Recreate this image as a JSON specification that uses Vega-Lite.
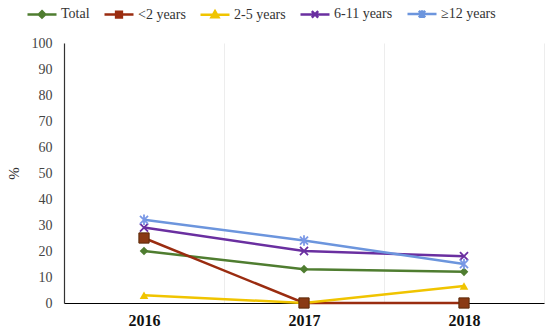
{
  "$schema": "https://vega.github.io/schema/vega-lite/v6.json",
  "width": 480,
  "height": 260,
  "autosize": "none",
  "padding": {"left": 64, "top": 43, "right": 6, "bottom": 31},
  "background": "white",
  "config": {
    "view": {"stroke": null},
    "font": "Liberation Serif"
  },
  "data": {
    "values": [
      {"year": "2016", "series": "Total", "value": 20},
      {"year": "2017", "series": "Total", "value": 13},
      {"year": "2018", "series": "Total", "value": 12},
      {"year": "2016", "series": "<2 years", "value": 25},
      {"year": "2017", "series": "<2 years", "value": 0},
      {"year": "2018", "series": "<2 years", "value": 0},
      {"year": "2016", "series": "2-5 years", "value": 3},
      {"year": "2017", "series": "2-5 years", "value": 0},
      {"year": "2018", "series": "2-5 years", "value": 6.5},
      {"year": "2016", "series": "6-11 years", "value": 29},
      {"year": "2017", "series": "6-11 years", "value": 20},
      {"year": "2018", "series": "6-11 years", "value": 18},
      {"year": "2016", "series": "≥12 years", "value": 32},
      {"year": "2017", "series": "≥12 years", "value": 24},
      {"year": "2018", "series": "≥12 years", "value": 15}
    ]
  },
  "encoding": {
    "x": {
      "field": "year", "type": "ordinal",
      "scale": {"type": "band", "paddingInner": 0, "paddingOuter": 0},
      "axis": {
        "title": null, "labelAngle": 0, "ticks": false, "tickBand": "extent",
        "grid": true, "gridColor": "#ededed", "gridWidth": 1,
        "domainColor": "#000000", "domainWidth": 1.2,
        "labelFont": "Liberation Serif", "labelFontSize": 16, "labelFontWeight": "bold",
        "labelColor": "#111111", "labelPadding": 9
      }
    },
    "y": {
      "field": "value", "type": "quantitative",
      "scale": {"domain": [0, 100], "nice": false},
      "axis": {
        "title": "%", "titleFont": "Liberation Serif", "titleFontSize": 15, "titleFontWeight": "normal",
        "titleColor": "#333333", "titlePadding": 10,
        "values": [0, 10, 20, 30, 40, 50, 60, 70, 80, 90, 100],
        "ticks": false, "grid": false, "domainColor": "#333333", "domainWidth": 1.2,
        "labelFont": "Liberation Serif", "labelFontSize": 14, "labelColor": "#444444", "labelPadding": 12
      }
    }
  },
  "layer": [
    {
      "mark": {"type": "line", "strokeWidth": 2.5},
      "encoding": {
        "color": {
          "field": "series", "type": "nominal",
          "scale": {
            "domain": ["Total", "<2 years", "2-5 years", "6-11 years", "≥12 years"],
            "range": ["#4f7d30", "#9a2c10", "#f0c400", "#6a2fa0", "#6c95dd"]
          },
          "legend": {
            "title": null,
            "orient": "none", "legendX": -38, "legendY": -45,
            "direction": "horizontal",
            "symbolSize": 841, "symbolStrokeWidth": 2.5,
            "labelFont": "Liberation Serif", "labelFontSize": 14, "labelColor": "#333333",
            "labelOffset": 3, "columnPadding": 9,
            "encode": {
              "symbols": {
                "update": {
                  "shape": {"signal": "datum.value === 'Total' ? 'M-1,0L1,0M0,-0.22L0.22,0L0,0.22L-0.22,0Z' : datum.value === '<2 years' ? 'M-1,0L1,0M-0.2,-0.2H0.2V0.2H-0.2Z' : datum.value === '2-5 years' ? 'M-1,0L1,0M0,-0.24L0.24,0.18L-0.24,0.18Z' : datum.value === '6-11 years' ? 'M-1,0L1,0M-0.22,-0.22L0.22,0.22M-0.22,0.22L0.22,-0.22' : 'M-1,0L1,0M-0.22,-0.22L0.22,0.22M-0.22,0.22L0.22,-0.22M0,-0.26L0,0.26'"},
                  "size": {"value": 841},
                  "fill": {"signal": "scale('color', datum.value)"},
                  "strokeWidth": {"value": 2.5}
                }
              }
            }
          }
        }
      }
    },
    {
      "transform": [{"filter": {"field": "series", "oneOf": ["Total", "2-5 years"]}}],
      "mark": {"type": "point", "filled": true, "opacity": 1, "size": 75},
      "encoding": {
        "fill": {
          "field": "series", "type": "nominal", "legend": null,
          "scale": {
            "domain": ["Total", "2-5 years"],
            "range": ["#4f7d30", "#f0c400"]
          }
        },
        "shape": {
          "field": "series", "type": "nominal", "legend": null,
          "scale": {
            "domain": ["Total", "2-5 years"],
            "range": ["diamond", "triangle-up"]
          }
        }
      }
    },
    {
      "transform": [{"filter": {"field": "series", "equal": "<2 years"}}],
      "mark": {"type": "point", "filled": true, "opacity": 1, "size": 105, "shape": "square", "fill": "#8a3a14", "stroke": "#5a2a0a", "strokeWidth": 1}
    },
    {
      "transform": [{"filter": {"field": "series", "equal": "6-11 years"}}],
      "mark": {"type": "point", "filled": false, "opacity": 1, "size": 65, "strokeWidth": 1.8, "stroke": "#6a2fa0", "shape": "M-1,-1L1,1M-1,1L1,-1"}
    },
    {
      "transform": [{"filter": {"field": "series", "equal": "≥12 years"}}],
      "mark": {"type": "point", "filled": false, "opacity": 1, "size": 65, "strokeWidth": 1.8, "stroke": "#7a98e6", "shape": "M-1,-1L1,1M-1,1L1,-1M0,-1.3L0,1.3"}
    }
  ]
}
